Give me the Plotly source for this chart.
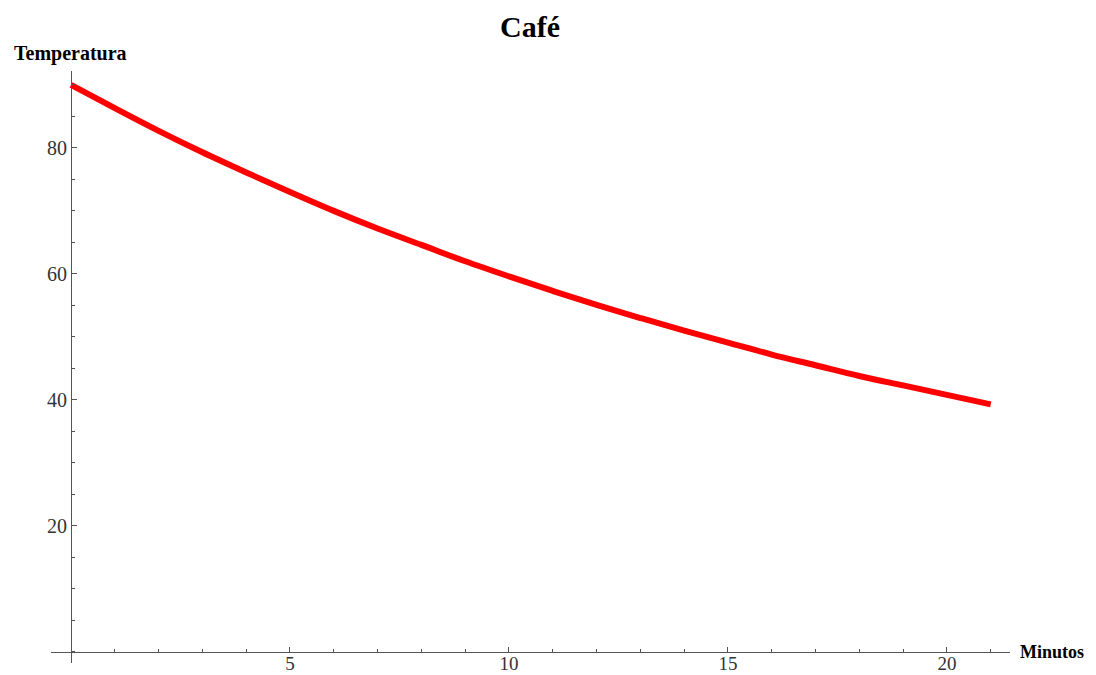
import plotly.graph_objects as go

minutos = list(range(0, 22))
temperatura = [90.0, 86.3, 82.7, 79.3, 76.1, 73.0, 70.0, 67.2, 64.6, 62.0, 59.6,
               57.3, 55.1, 53.0, 51.0, 49.1, 47.2, 45.5, 43.8, 42.3, 40.8, 39.3]
x_ticks = [5, 10, 15, 20]
y_ticks = [20, 40, 60, 80]

SERIF = "Liberation Serif, Times New Roman, serif"

fig = go.Figure()
fig.add_trace(go.Scatter(x=minutos, y=temperatura, mode="lines",
                         line=dict(color="#ff0000", width=6, shape="spline"),
                         hoverinfo="x+y", showlegend=False))

# page body has an 8px margin, so the figure is drawn 8px smaller and offset
W, H = 1088, 667
ml, mr, mt, mb = 43, 86, 63, 12
pw, ph = W - ml - mr, H - mt - mb
xr = [-0.457, 21.44]
yr = [-1.75, 92.2]
ypos = (0 - yr[0]) / (yr[1] - yr[0])
xpos = (0 - xr[0]) / (xr[1] - xr[0])

fig.update_layout(
    width=W, height=H,
    margin=dict(l=ml, r=mr, t=mt, b=mb, autoexpand=False),
    paper_bgcolor="white", plot_bgcolor="white",
    title=dict(text="<b>Café</b>", x=(530 - 8) / W, xanchor="center",
               y=1 - (26 - 8) / H, yanchor="middle",
               font=dict(family=SERIF, size=30, color="black")),
    xaxis=dict(range=xr, showgrid=False, zeroline=False, showline=True,
               linecolor="#555", linewidth=1, anchor="free", position=ypos,
               automargin=False, ticklabelstandoff=-6,
               tickvals=x_ticks, ticks="inside", ticklen=5, tickcolor="#555",
               tickfont=dict(family=SERIF, size=19, color="#333"),
               minor=dict(dtick=1, tick0=0, ticks="inside", ticklen=3, tickcolor="#555"),
               fixedrange=True),
    yaxis=dict(range=yr, showgrid=False, zeroline=False, showline=True,
               linecolor="#555", linewidth=1, anchor="free", position=xpos,
               automargin=False,
               tickvals=y_ticks, ticks="inside", ticklen=5, tickcolor="#555",
               tickfont=dict(family=SERIF, size=20, color="#333"),
               minor=dict(dtick=5, tick0=0, ticks="inside", ticklen=3, tickcolor="#555"),
               fixedrange=True),
    annotations=[
        dict(text="<b>Temperatura</b>", xref="paper", yref="paper",
             x=-39/pw, y=1.0 + 17/ph, xanchor="left", yanchor="middle", showarrow=False,
             font=dict(family=SERIF, size=20, color="black")),
        dict(text="<b>Minutos</b>", xref="paper", yref="paper",
             x=1.0 + 8/pw, y=ypos, xanchor="left", yanchor="middle", showarrow=False,
             font=dict(family=SERIF, size=18, color="black")),
    ],
)

fig.write_html("out.html")
